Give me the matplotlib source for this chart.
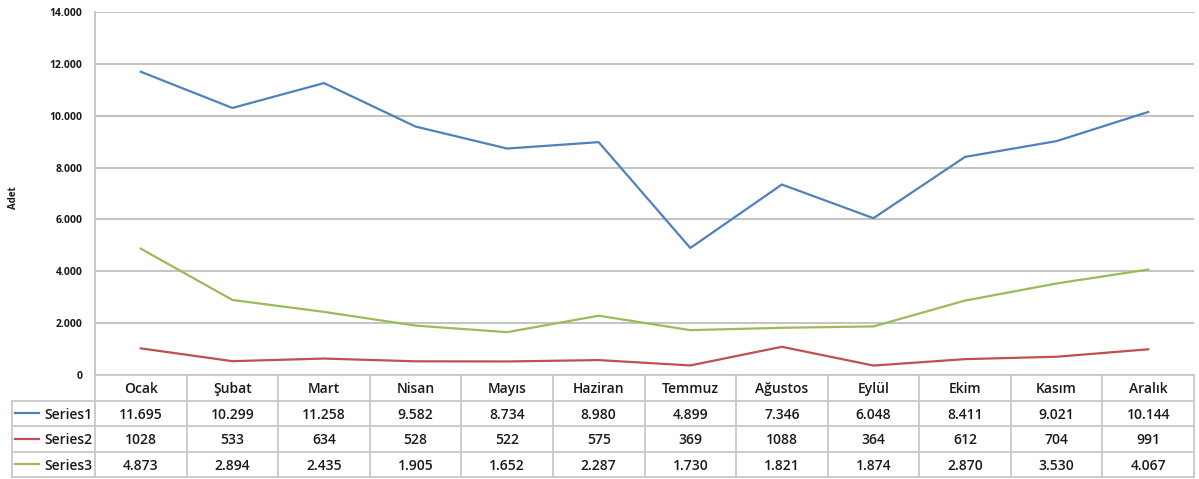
import matplotlib
matplotlib.use("Agg")
import matplotlib.pyplot as plt

plt.rcParams["font.family"] = ["Open Sans", "DejaVu Sans"]

months = ["Ocak", "Şubat", "Mart", "Nisan", "Mayıs", "Haziran", "Temmuz",
          "Ağustos", "Eylül", "Ekim", "Kasım", "Aralık"]
series_names = ["Series1", "Series2", "Series3"]
series1 = [11695, 10299, 11258, 9582, 8734, 8980, 4899, 7346, 6048, 8411, 9021, 10144]
series2 = [1028, 533, 634, 528, 522, 575, 369, 1088, 364, 612, 704, 991]
series3 = [4873, 2894, 2435, 1905, 1652, 2287, 1730, 1821, 1874, 2870, 3530, 4067]
# tablo metinleri (Series2 binlik ayraçsız yazılmış)
series1_txt = ["11.695", "10.299", "11.258", "9.582", "8.734", "8.980", "4.899",
               "7.346", "6.048", "8.411", "9.021", "10.144"]
series2_txt = ["1028", "533", "634", "528", "522", "575", "369", "1088", "364",
               "612", "704", "991"]
series3_txt = ["4.873", "2.894", "2.435", "1.905", "1.652", "2.287", "1.730",
               "1.821", "1.874", "2.870", "3.530", "4.067"]
y_ticks = [0, 2000, 4000, 6000, 8000, 10000, 12000, 14000]

colors = ["#4F81BD", "#C0504D", "#9BBB59"]
grid_c = "#C4C4C4"
txt_c = "#1A1A1A"
W, H = 1199, 479

fig = plt.figure(figsize=(W / 100, H / 100), dpi=100)

# ana grafik alanı (piksel -> figür oranı)
x0, x1, y_top, y_zero = 95, 1194, 12, 375
ax = fig.add_axes([x0 / W, 1 - y_zero / H, (x1 - x0) / W, (y_zero - y_top) / H])
n = len(months)
xs = list(range(n))
for vals, c in zip([series1, series2, series3], colors):
    ax.plot(xs, vals, color=c, lw=1.6, solid_joinstyle="round")

ax.set_xlim(-0.5, n - 0.5)
ax.set_ylim(0, 14000)
ax.set_yticks(y_ticks)
ax.set_yticklabels([f"{t:,}".replace(",", ".") for t in y_ticks],
                   fontsize=7.5, fontweight="bold", color=txt_c)
ax.set_xticks([])
ax.tick_params(axis="y", length=0, pad=9)
for t in y_ticks:
    ax.axhline(t, color=grid_c, lw=1.5, zorder=0)
for s in ["top", "right", "bottom"]:
    ax.spines[s].set_visible(False)
ax.spines["left"].set_color(grid_c)
ax.spines["left"].set_linewidth(1.3)
fig.text(14 / W, 1 - 198 / H, "Adet", rotation=90, fontsize=7, fontweight="bold",
         ha="center", va="center", color=txt_c)

# veri tablosu
lbl_w = (x0 - 12) / ((x1 - x0) / n)
t_bot = 477
tax = fig.add_axes([12 / W, 1 - t_bot / H, (x1 - 12) / W, (t_bot - y_zero) / H])
tax.set_xlim(-0.5 - lbl_w, n - 0.5)
tax.set_ylim(4, 0)
tax.axis("off")

lc = "#C8C8C8"
# yatay çizgiler
tax.plot([-0.5, n - 0.5], [0, 0], color=lc, lw=1.3, clip_on=False)
for r in range(1, 5):
    tax.plot([-0.5 - lbl_w, n - 0.5], [r, r], color=lc, lw=1.3, clip_on=False)
# dikey çizgiler
tax.plot([-0.5 - lbl_w, -0.5 - lbl_w], [1, 4], color=lc, lw=1.3, clip_on=False)
for i in range(n + 1):
    tax.plot([i - 0.5, i - 0.5], [0, 4], color=lc, lw=1.3, clip_on=False)

tw = "semibold"
for i, m in enumerate(months):
    tax.text(i, 0.55, m, ha="center", va="center", fontsize=10, color=txt_c,
             fontweight=tw)
rows = [series1_txt, series2_txt, series3_txt]
for r, (name, txts, c) in enumerate(zip(series_names, rows, colors), start=1):
    for i, t in enumerate(txts):
        tax.text(i, r + 0.55, t, ha="center", va="center", fontsize=10,
                 color=txt_c, fontweight=tw)
    tax.plot([-0.5 - lbl_w + 0.03, -0.5 - lbl_w + 0.3], [r + 0.5, r + 0.5],
             color=c, lw=1.6)
    tax.text(-0.53, r + 0.55, name, ha="right", va="center", fontsize=10,
             color=txt_c, fontweight=tw)

plt.savefig("out.png", dpi=100)
